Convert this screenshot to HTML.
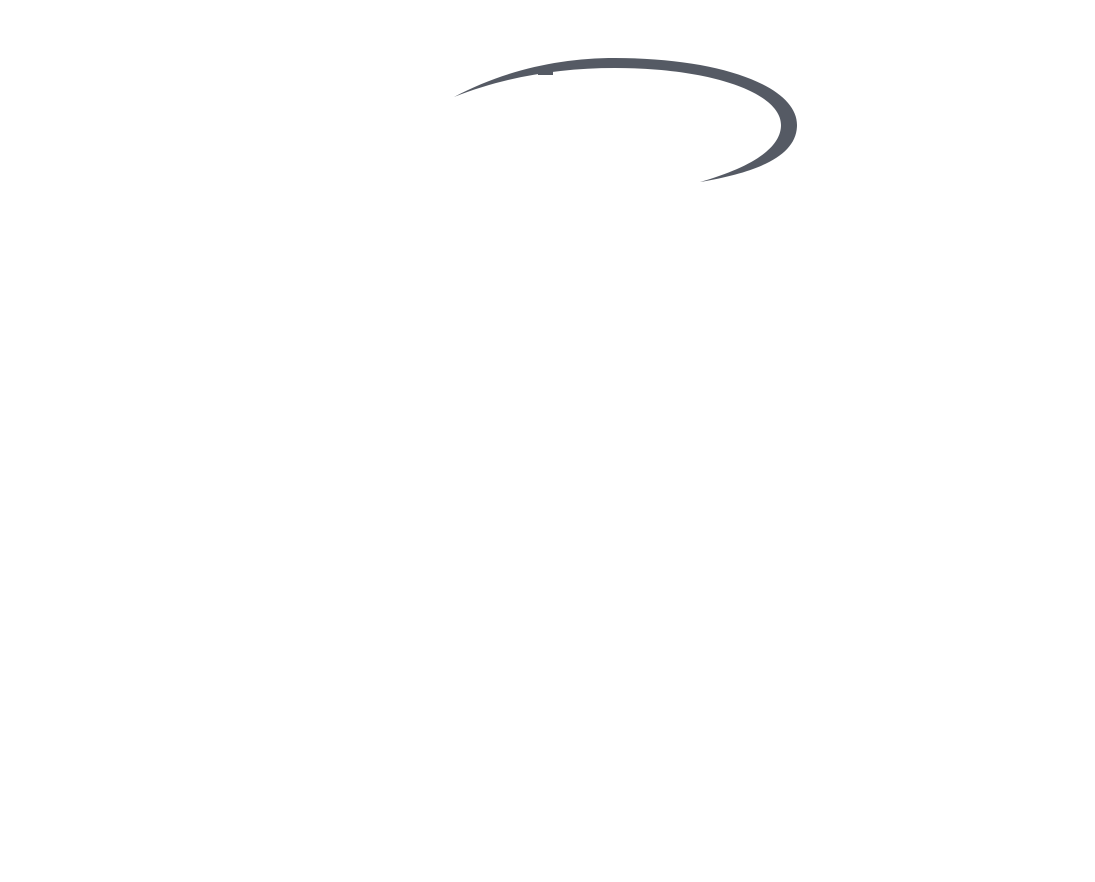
<!DOCTYPE html>
<html><head><meta charset="utf-8"><style>html,body{margin:0;padding:0;background:#fff;width:1095px;height:882px;overflow:hidden}</style></head>
<body>
<svg width="1095" height="882" viewBox="0 0 1095 882" xmlns="http://www.w3.org/2000/svg">
<path d="M454,97 C505,70 560,58 615,58 C720,58 797,86 797,125 C797,155 760,172 700,182 C752,167 781,148 781,125 C781,93 712,68 615,68 C558,68 505,77 454,97 Z" fill="#555a64"/>
<rect x="538" y="70" width="15" height="5" fill="#555a64"/>
</svg>
</body></html>
